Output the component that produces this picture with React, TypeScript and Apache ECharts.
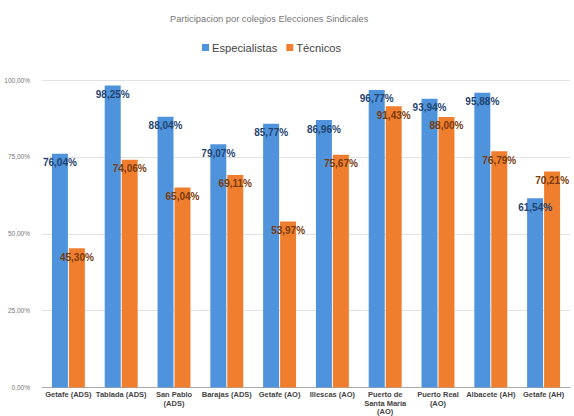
import React, { useEffect, useRef } from "react";
import * as echarts from "echarts";

const categories = [
  "Getafe (ADS)",
  "Tablada (ADS)",
  "San Pablo\n(ADS)",
  "Barajas (ADS)",
  "Getafe (AO)",
  "Illescas (AO)",
  "Puerto de\nSanta María\n(AO)",
  "Puerto Real\n(AO)",
  "Albacete (AH)",
  "Getafe (AH)",
];
const especialistas = [76.04, 98.25, 88.04, 79.07, 85.77, 86.96, 96.77, 93.94, 95.88, 61.54];
const tecnicos = [45.3, 74.06, 65.04, 69.11, 53.97, 75.67, 91.43, 88.0, 76.79, 70.21];
const seriesNames = ["Especialistas", "Técnicos"];
const titleText = "Participacion por colegios Elecciones Sindicales";

const fmt = (v: number) => v.toFixed(2).replace(".", ",") + "%";

export default function App() {
  const ref = useRef<HTMLDivElement>(null);
  useEffect(() => {
    document.body.style.margin = "0";
    const chart = echarts.init(ref.current!, null, { renderer: "svg" });
    const font = "Liberation Sans, Arial, sans-serif";
    chart.setOption({
      animation: false,
      textStyle: { fontFamily: font },
      title: {
        text: titleText,
        left: 165,
        top: 9,
        textStyle: { fontSize: 9.3, fontWeight: "normal", color: "#777", fontFamily: font },
      },
      legend: {
        data: seriesNames,
        left: 197,
        top: 37,
        icon: "rect",
        itemWidth: 7,
        itemHeight: 7,
        itemGap: 9,
        textStyle: { fontSize: 11.2, color: "#444", fontFamily: font, padding: [0, 0, 0, -2] },
      },
      grid: { left: 42, right: 4, top: 80, bottom: 27, containLabel: false },
      xAxis: {
        type: "category",
        data: categories,
        axisTick: { show: false },
        axisLine: { lineStyle: { color: "#aaa" } },
        axisLabel: {
          interval: 0,
          fontSize: 7.5,
          fontWeight: "bold",
          color: "#444",
          lineHeight: 8.5,
          margin: 3,
          fontFamily: font,
        },
      },
      yAxis: {
        type: "value",
        min: 0,
        max: 100,
        interval: 25,
        axisLine: { show: false },
        axisTick: { show: false },
        splitLine: { lineStyle: { color: "#e2e2e2" } },
        axisLabel: {
          formatter: (v: number) => fmt(v),
          fontSize: 6.5,
          color: "#777",
          margin: 12,
          fontFamily: font,
        },
      },
      series: [
        {
          name: seriesNames[0],
          type: "bar",
          data: especialistas,
          barWidth: 16,
          barGap: "6%",
          itemStyle: { color: "#4f93dc" },
          label: {
            show: true,
            position: "insideTop",
            distance: 4,
            formatter: (p: any) => fmt(p.value),
            fontSize: 10,
            fontWeight: "bold",
            color: "#1f4470",
            fontFamily: font,
          },
        },
        {
          name: seriesNames[1],
          type: "bar",
          data: tecnicos,
          barWidth: 16,
          barGap: "6%",
          itemStyle: { color: "#ef7f2f" },
          label: {
            show: true,
            position: "insideTop",
            distance: 4,
            formatter: (p: any) => fmt(p.value),
            fontSize: 10,
            fontWeight: "bold",
            color: "#7a3a0c",
            fontFamily: font,
          },
        },
      ],
    });
    return () => chart.dispose();
  }, []);
  return <div ref={ref} style={{ width: 574, height: 416 }} />;
}
